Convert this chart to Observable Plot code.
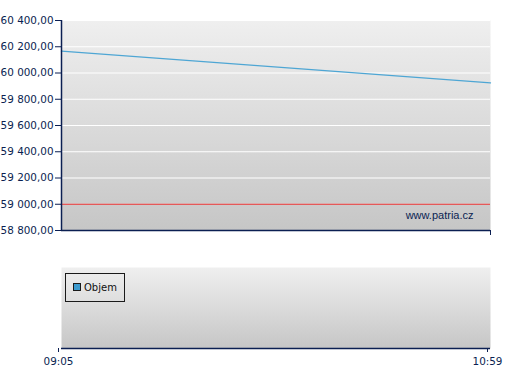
<!DOCTYPE html>
<html>
<head>
<meta charset="utf-8">
<script src="https://cdn.jsdelivr.net/npm/d3@7"></script>
<script src="https://cdn.jsdelivr.net/npm/@observablehq/plot@0.6"></script>
<style>
  html, body { margin: 0; padding: 0; background: #ffffff; }
  #wrap { position: relative; width: 507px; height: 380px; font-family: "DejaVu Sans", Verdana, sans-serif; font-size: 10px; }
  #topChart, #bottomChart { position: absolute; left: 0; }
  #topChart { top: 0; }
  #bottomChart { top: 250px; }
  .legend { position: absolute; left: 65px; top: 273px; width: 60px; height: 29px; border: 1px solid #1a1a1a; box-sizing: border-box; }
  .legend .sw { position: absolute; left: 7px; top: 9px; width: 8px; height: 8px; background: #3d9bcf; border: 1px solid #1a1a1a; box-sizing: border-box; }
  .legend .lb { position: absolute; left: 18px; top: 8px; color: #111; font-family: "DejaVu Sans", Verdana, sans-serif; font-size: 10px; line-height: 12px; }
</style>
</head>
<body>
<div id="wrap">
  <div id="topChart"></div>
  <div id="bottomChart"></div>
</div>
<script>
// ---- data ----
const times = [new Date(2024, 0, 1, 9, 5), new Date(2024, 0, 1, 10, 59)];
const prices = [60166, 59925];
const limitValue = [59000];
const yTicks = [58800, 59000, 59200, 59400, 59600, 59800, 60000, 60200, 60400];
const seriesNames = ["Objem"];
const watermark = ["www.patria.cz"];

const navy = "#0b1f52";
const locale = d3.formatLocale({decimal: ",", thousands: "\u00a0", grouping: [3], currency: ["", ""]});
const fmt = locale.format(",.2f");
const data = times.map((t, i) => ({t, v: prices[i]}));

function addGradient(svg, id) {
  const defs = d3.select(svg).insert("defs", ":first-child");
  const g = defs.append("linearGradient").attr("id", id).attr("x1", 0).attr("y1", 0).attr("x2", 0).attr("y2", 1);
  g.append("stop").attr("offset", "0%").attr("stop-color", "#efefef");
  g.append("stop").attr("offset", "100%").attr("stop-color", "#c6c6c6");
}

const axisStyle = {fontFamily: "DejaVu Sans, Verdana, sans-serif", fontSize: "10.4px", color: navy, background: "transparent", overflow: "visible"};

const topPlot = Plot.plot({
  width: 507, height: 250,
  marginLeft: 61, marginRight: 17, marginTop: 20, marginBottom: 20,
  style: axisStyle,
  x: {type: "time", domain: times},
  y: {domain: [58800, 60400]},
  marks: [
    Plot.frame({fill: "url(#gTop)", stroke: "none"}),
    Plot.gridY(yTicks, {stroke: "#ffffff", strokeOpacity: 1, strokeWidth: 1.2}),
    Plot.ruleY(limitValue, {stroke: "#e02626", strokeWidth: 1.2}),
    Plot.line(data, {x: "t", y: "v", stroke: "#4ea6d4", strokeWidth: 1.3}),
    Plot.text(watermark, {frameAnchor: "bottom-right", dx: -17, dy: -12, fill: navy, fontSize: 11, fontFamily: "Liberation Sans, Arial, sans-serif"}),
    Plot.axisY(yTicks, {tickFormat: fmt, tickSize: 6, tickPadding: 2, stroke: navy, fill: navy, label: null}),
    Plot.axisX([times[1]], {tickFormat: () => "", tickSize: 5, stroke: navy, label: null}),
    Plot.ruleX([times[0]], {stroke: navy, strokeWidth: 1.5}),
    Plot.ruleY([58800], {stroke: navy, strokeWidth: 1.5})
  ]
});
addGradient(topPlot, "gTop");
document.getElementById("topChart").appendChild(topPlot);

const bottomPlot = Plot.plot({
  width: 507, height: 130,
  marginLeft: 61, marginRight: 17, marginTop: 17, marginBottom: 32,
  style: axisStyle,
  x: {type: "time", domain: times},
  y: {domain: [0, 1], axis: null},
  marks: [
    Plot.frame({fill: "url(#gBot)", stroke: "none"}),
    Plot.ruleY([0], {stroke: navy, strokeWidth: 1.5}),
    Plot.axisX(times, {tickFormat: d3.timeFormat("%H:%M"), tickSize: 4, tickPadding: 5, dx: -3, stroke: navy, fill: navy, label: null})
  ]
});
addGradient(bottomPlot, "gBot");
document.getElementById("bottomChart").appendChild(bottomPlot);

// legend
const lg = document.createElement("div");
lg.className = "legend";
seriesNames.forEach(n => {
  const sw = document.createElement("div"); sw.className = "sw";
  const lb = document.createElement("div"); lb.className = "lb"; lb.textContent = n;
  lg.appendChild(sw); lg.appendChild(lb);
});
document.getElementById("wrap").appendChild(lg);
</script>
</body>
</html>
